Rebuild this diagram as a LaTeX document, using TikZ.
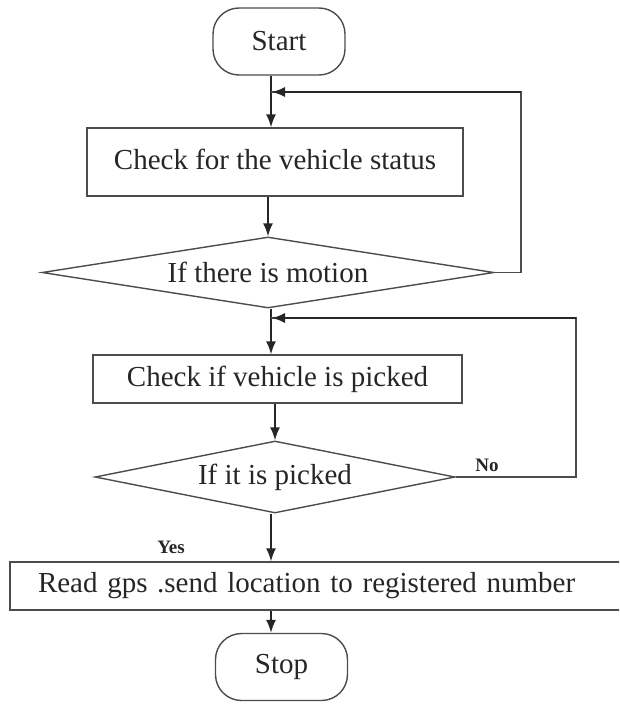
\documentclass[tikz,border=0pt]{standalone}
\usepackage{fontspec}
\setmainfont{Liberation Serif}
\usetikzlibrary{shapes.geometric,arrows.meta}
\tikzset{
  shapeline/.style={draw=black!70, line width=1.4pt},
  termbox/.style={shapeline, rounded corners=26pt, minimum width=132pt, minimum height=67pt, inner sep=0pt},
  procbox/.style={shapeline, inner sep=0pt},
  decbox/.style={shapeline, shape=diamond, aspect=6.4, inner sep=0pt},
  arr/.style={line width=1.6pt, draw=black!85, -{Latex[length=13pt,width=10pt]}},
  lin/.style={line width=1.4pt, draw=black!70},
  lbl/.style={font=\bfseries\fontsize{19}{22}\selectfont, inner sep=0pt},
}
\begin{document}
\begin{tikzpicture}[x=1pt,y=-1pt, every node/.style={text=black!85}, font=\fontsize{29}{33}\selectfont]
\clip (0,0) rectangle (619,709);
\fill[white] (0,0) rectangle (619,709);
\coordinate (c) at (271,0);
\node[termbox] (start) at (279,41.5) {Start};
\node[procbox, minimum width=376pt, minimum height=68pt] (box1) at (275,162) {\raisebox{6pt}{Check for the vehicle status}};
\node[decbox, minimum width=452pt, minimum height=71pt] (dec1) at (268,272.5) {If there is motion};
\node[procbox, minimum width=369pt, minimum height=48pt] (box2) at (277.5,379) {Check if vehicle is picked};
\node[decbox, minimum width=360pt, minimum height=72pt] (dec2) at (275,477) {If it is picked};
\node[procbox, minimum height=48pt, text width=564pt, align=left, inner xsep=28pt] (box3) at (320,586) {Read gps .send location to registered number};
\node[termbox] (stop) at (281.5,667) {Stop};
% loop corners
\coordinate (l1) at (521,92);
\coordinate (l2) at (576,318);
% main arrows
\draw[arr] (start.south -| c) -- (box1.north -| c);
\draw[arr] (box1.south -| dec1.north) -- (dec1.north);
\draw[arr] (dec1.south -| c) -- (box2.north -| c);
\draw[arr] (box2.south -| dec2.north) -- (dec2.north);
\draw[arr] (dec2.south -| c) -- (box3.north -| c);
\draw[arr] (box3.south -| c) -- (stop.north -| c);
% feedback loops
\draw[lin] (dec1.east) -- (dec1.east -| l1) -- (l1) -- (l1 -| c);
\draw[arr] (l1) -- ([xshift=1pt]l1 -| c);
\draw[lin] (dec2.east) -- (dec2.east -| l2) -- (l2) -- (l2 -| c);
\draw[arr] (l2) -- ([xshift=1pt]l2 -| c);
% labels
\node[lbl] (no) at (487,465) {No};
\node[lbl] (yes) at (171,547) {Yes};
\end{tikzpicture}
\end{document}
